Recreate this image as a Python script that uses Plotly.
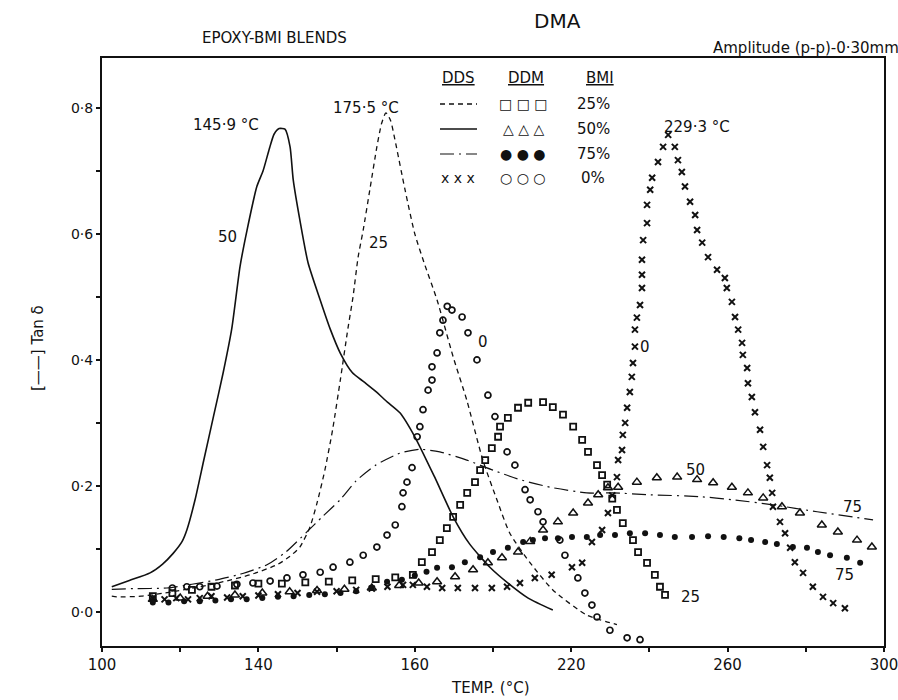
import plotly.graph_objects as go

# ---------------- data ----------------
# DDS cured blends (lines)
dds25_T = [102.5, 103.8, 110, 118, 125, 131, 137.9, 144.8, 148, 150.6, 153.2, 155, 157, 159, 161, 162.9,
           164.2, 165.5, 166.8, 168.5, 170.3, 171.5, 172.6, 173.8, 174.9, 177.5, 180, 182.6, 185.7, 189.8,
           193.3, 197.4, 201, 204.3, 209.5, 215.3, 224, 231.7]
dds25_v = [0.025, 0.024, 0.025, 0.032, 0.040, 0.048, 0.059, 0.075, 0.088, 0.103, 0.135, 0.173, 0.225, 0.29,
           0.37, 0.450, 0.500, 0.563, 0.606, 0.670, 0.738, 0.775, 0.792, 0.78, 0.75, 0.67, 0.60, 0.55, 0.495,
           0.405, 0.336, 0.241, 0.178, 0.125, 0.078, 0.035, -0.005, -0.020]

dds50_T = [102.5, 107, 112.3, 115.5, 118.2, 120.5, 121.7, 123.8, 126, 128.5, 131, 133.2, 135.3, 137.1,
           139.6, 141.2, 142.8, 144, 145.3, 146.8, 148.1, 148.9, 150.6, 152.7, 155.8, 158.3, 161, 164, 167,
           170, 173, 176.2, 180, 185, 189.8, 194, 199.2, 204, 209, 215.3]
dds50_v = [0.040, 0.050, 0.062, 0.076, 0.093, 0.112, 0.130, 0.178, 0.24, 0.31, 0.38, 0.450, 0.548, 0.606,
           0.675, 0.700, 0.735, 0.758, 0.767, 0.766, 0.738, 0.686, 0.622, 0.554, 0.495, 0.450, 0.41, 0.38,
           0.365, 0.35, 0.333, 0.316, 0.278, 0.215, 0.151, 0.108, 0.071, 0.045, 0.022, 0.003]

dds75_T = [102.5, 108, 116.6, 123, 129.4, 136, 142.2, 147, 152.4, 156.5, 160.9, 165, 170, 176.2, 181.3,
           186.4, 193.3, 200, 206.9, 214.6, 224, 230.7, 240.2, 252.9, 261.4, 271.6, 282.9, 297.2]
dds75_v = [0.036, 0.037, 0.038, 0.044, 0.051, 0.061, 0.075, 0.095, 0.127, 0.152, 0.178, 0.208, 0.233, 0.252,
           0.258, 0.254, 0.241, 0.225, 0.210, 0.198, 0.189, 0.189, 0.186, 0.183, 0.178, 0.170, 0.159, 0.146]

dds0_T = [113, 116, 119, 122, 125, 128, 132, 136, 140, 145, 150, 155, 160, 165, 169, 173, 177, 179.5, 183.1,
          187, 191, 195.4, 199.7, 203.6, 206.9, 210.7, 215, 220.2, 222.8, 225.3, 227.9, 229.4, 230.5, 231.7,
          232, 233, 233.2, 233.8, 234.3, 235, 235.5, 235.8, 236.3, 236.3, 236.8, 237.6, 238.1, 238.1, 238.1,
          238.4, 239.4, 239.4, 240.2, 240.7, 242.2, 243.5, 244.8, 246.5, 247.3, 248.3, 249.1, 250.4, 251.7,
          252.2, 253.5, 255, 257.3, 259.3, 259.8, 261.1, 261.9, 262.7, 263.7, 263.9, 265, 265.2, 266.2, 267,
          268.3, 269.1, 270.1, 270.8, 271.4, 271.6, 273.4, 274.7, 276, 277.2, 279.3, 281.8, 284.4, 287, 290]
dds0_v = [0.022, 0.020, 0.022, 0.020, 0.022, 0.025, 0.023, 0.025, 0.026, 0.028, 0.030, 0.032, 0.033, 0.035,
          0.037, 0.040, 0.043, 0.043, 0.040, 0.038, 0.038, 0.038, 0.038, 0.040, 0.046, 0.054, 0.059, 0.071,
          0.078, 0.111, 0.130, 0.157, 0.185, 0.214, 0.241, 0.257, 0.281, 0.300, 0.324, 0.349, 0.373, 0.395,
          0.421, 0.448, 0.467, 0.487, 0.514, 0.535, 0.559, 0.590, 0.617, 0.646, 0.670, 0.689, 0.714, 0.738,
          0.757, 0.738, 0.717, 0.698, 0.675, 0.651, 0.630, 0.606, 0.586, 0.563, 0.543, 0.530, 0.514, 0.492,
          0.468, 0.448, 0.427, 0.408, 0.387, 0.363, 0.341, 0.317, 0.289, 0.262, 0.233, 0.213, 0.189, 0.167,
          0.143, 0.125, 0.102, 0.079, 0.062, 0.040, 0.024, 0.014, 0.006, 0.003]

# DDM cured blends (markers)
ddm25_T = [113, 118, 123, 128, 134, 140, 146, 152, 158, 164, 170, 175, 179.5, 181.8, 184.4, 186.4, 188.2,
           189.8, 191.6, 193.4, 195.4, 196.7, 198, 199.7, 201.3, 201.8, 203.8, 206.4, 209, 212.8, 215.3, 217.9,
           220.5, 222.8, 224.3, 226.6, 227.9, 229.2, 230.5, 231.7, 233.2, 235.8, 237.1, 239.4, 241.4, 242.7, 244]
ddm25_v = [0.025, 0.030, 0.035, 0.040, 0.042, 0.045, 0.045, 0.047, 0.048, 0.050, 0.052, 0.055, 0.059, 0.079,
           0.095, 0.114, 0.133, 0.151, 0.170, 0.189, 0.206, 0.225, 0.241, 0.260, 0.278, 0.294, 0.308, 0.324,
           0.332, 0.333, 0.325, 0.313, 0.294, 0.273, 0.254, 0.233, 0.217, 0.202, 0.180, 0.162, 0.141, 0.114,
           0.095, 0.078, 0.059, 0.040, 0.027]

ddm50_T = [113, 120, 127, 134, 141, 148, 155, 162, 169, 176, 181, 185.7, 190.3, 194.9, 198.7, 202.3, 206.4,
           209.5, 212.8, 216.6, 220.5, 224.3, 226.9, 229.4, 232, 236.8, 241.9, 247.1, 252.2, 256.3, 261.1,
           265.2, 269.1, 273.9, 278.5, 284.1, 288.2, 293.1, 296.9]
ddm50_v = [0.020, 0.022, 0.025, 0.027, 0.030, 0.032, 0.034, 0.036, 0.038, 0.042, 0.046, 0.048, 0.056, 0.067,
           0.078, 0.086, 0.095, 0.112, 0.130, 0.143, 0.157, 0.173, 0.186, 0.197, 0.198, 0.206, 0.213, 0.214,
           0.210, 0.205, 0.198, 0.189, 0.181, 0.167, 0.157, 0.138, 0.127, 0.114, 0.103]

ddm75_T = [113, 117, 121, 125, 129, 133, 137, 141, 145, 149, 153, 157, 161, 165, 169, 172.9, 176.7, 180, 183,
           185.7, 189.5, 192.8, 196.7, 200, 203.8, 207.7, 210.2, 213.3, 216.6, 220.2, 224, 227.4, 231.2, 235,
           238.9, 242.7, 246.5, 250.9, 255, 259, 263, 266, 269.6, 272.6, 276.7, 280.3, 283.1, 286.2, 290.5, 293.9]
ddm75_v = [0.015, 0.015, 0.017, 0.017, 0.018, 0.020, 0.020, 0.022, 0.024, 0.025, 0.027, 0.028, 0.030, 0.033,
           0.038, 0.048, 0.051, 0.058, 0.064, 0.070, 0.071, 0.079, 0.087, 0.095, 0.102, 0.111, 0.114, 0.117,
           0.117, 0.119, 0.119, 0.122, 0.122, 0.125, 0.125, 0.122, 0.119, 0.119, 0.120, 0.119, 0.117, 0.114,
           0.111, 0.108, 0.103, 0.102, 0.095, 0.090, 0.086, 0.078]

ddm0_T = [118, 121.7, 125, 129.4, 134.5, 138.6, 143, 147.3, 151.4, 155.8, 159.1, 163.4, 166.8, 170.3, 172.9,
          175, 176.7, 177, 178, 179.3, 180.6, 181.3, 182.1, 183.4, 184.4, 184.4, 185.7, 186.4, 187.2, 188.3,
          189.5, 192.1, 193.6, 195.9, 198.7, 200.5, 203.6, 205.6, 208.2, 209.5, 211.5, 212.8, 217.1, 218.4,
          221.7, 223.5, 225.3, 226.6, 229.9, 234.3, 237.6]
ddm0_v = [0.038, 0.040, 0.040, 0.041, 0.044, 0.046, 0.049, 0.054, 0.059, 0.063, 0.071, 0.079, 0.090, 0.103,
          0.122, 0.138, 0.167, 0.189, 0.206, 0.229, 0.278, 0.294, 0.321, 0.352, 0.368, 0.389, 0.411, 0.443,
          0.463, 0.485, 0.479, 0.468, 0.443, 0.400, 0.344, 0.310, 0.254, 0.233, 0.194, 0.178, 0.159, 0.143,
          0.114, 0.090, 0.054, 0.030, 0.011, -0.008, -0.029, -0.041, -0.044]

# axes
x_tickvals = [100, 120, 140, 160, 180, 200, 220, 240, 260, 280, 300]
x_ticktext = ["100", "", "140", "", "160", "", "220", "", "260", "", "300"]
y_tickvals = [0.0, 0.1, 0.2, 0.3, 0.4, 0.5, 0.6, 0.7, 0.8]
y_ticktext = ["0·0", "", "0·2", "", "0·4", "", "0·6", "", "0·8"]

# legend table text
bmi_labels = ["25%", "50%", "75%", "0%"]
ddm_glyphs = ["□ □ □", "△ △ △", "● ● ●", "○ ○ ○"]

# ---------------- figure ----------------
W, H = 898, 700
ML, MR, MT, MB = 102, 14, 58, 54
PW, PH = W - ML - MR, H - MT - MB
FONT = "DejaVu Sans"
INK = "#111111"


def px(x):
    return (x - ML) / PW


def py(y):
    return (H - MB - y) / PH


fig = go.Figure()

line_styles = [
    (dds25_T, dds25_v, "5px,4px", 1.3),
    (dds50_T, dds50_v, "solid", 1.6),
    (dds75_T, dds75_v, "14px,5px,2px,5px", 1.2),
]
for T, v, dash, w in line_styles:
    fig.add_trace(go.Scatter(x=T, y=v, mode="lines", line=dict(color=INK, width=w, dash=dash,
                                                              shape="spline", smoothing=0.6),
                             showlegend=False, hoverinfo="skip"))

fig.add_trace(go.Scatter(x=dds0_T, y=dds0_v, mode="markers",
                         marker=dict(symbol="x-thin", size=6, line=dict(color=INK, width=2)),
                         showlegend=False))

marker_styles = [
    (ddm25_T, ddm25_v, "square-open", 6, 1.8),
    (ddm50_T, ddm50_v, "triangle-up-open", 8, 1.5),
    (ddm75_T, ddm75_v, "circle", 6, 0),
    (ddm0_T, ddm0_v, "circle-open", 6, 1.7),
]
for T, v, sym, sz, lw in marker_styles:
    fig.add_trace(go.Scatter(x=T, y=v, mode="markers",
                             marker=dict(symbol=sym, size=sz, color=INK, line=dict(color=INK, width=lw)),
                             showlegend=False))

ann = []
# titles
ann.append(dict(text="DMA", x=px(557), y=py(21), font=dict(size=20)))
ann.append(dict(text="EPOXY-BMI BLENDS", x=px(274), y=py(38), font=dict(size=15)))
ann.append(dict(text="Amplitude (p-p)-0·30mm", x=px(806), y=py(48), font=dict(size=15)))
ann.append(dict(text="TEMP. (°C)", x=px(490), y=py(688), font=dict(size=15)))
ann.append(dict(text="[——] Tan δ", x=px(38), y=py(348), textangle=-90, font=dict(size=15)))

# legend table
ann.append(dict(text="<u>DDS</u>", x=px(458), y=py(78), font=dict(size=15)))
ann.append(dict(text="<u>DDM</u>", x=px(526), y=py(78), font=dict(size=15)))
ann.append(dict(text="<u>BMI</u>", x=px(600), y=py(78), font=dict(size=15)))
rows_y = [104, 129, 154, 178]
for lab, gl, ry in zip(bmi_labels, ddm_glyphs, rows_y):
    ann.append(dict(text=lab, x=px(593), y=py(ry), font=dict(size=15)))
    ann.append(dict(text=gl, x=px(523), y=py(ry), font=dict(size=14)))
ann.append(dict(text="x x x", x=px(458), y=py(rows_y[3]), font=dict(size=14)))

shapes = []
for (dash, w), ry in zip([("5px,4px", 1.3), ("solid", 1.5), ("14px,5px,2px,5px", 1.2)], rows_y[:3]):
    shapes.append(dict(type="line", xref="paper", yref="paper", x0=px(440), x1=px(477), y0=py(ry), y1=py(ry),
                       line=dict(color=INK, width=w, dash=dash)))

for a in ann:
    a.update(xref="paper", yref="paper", showarrow=False, xanchor="center", yanchor="middle")
    a.setdefault("font", {})
    a["font"].update(family=FONT, color=INK)

# curve labels (data coordinates)
curve_labels = [
    ("145·9 °C", 131.7, 0.773), ("175·5 °C", 167.5, 0.800), ("229·3 °C", 252.2, 0.770),
    ("50", 132.0, 0.595), ("25", 170.6, 0.586), ("0", 197.4, 0.429), ("0", 238.9, 0.421),
    ("50", 251.7, 0.225), ("25", 250.4, 0.024), ("75", 292.0, 0.167), ("75", 290.0, 0.059),
]
for t, xx, yy in curve_labels:
    ann.append(dict(text=t, x=xx, y=yy, xref="x", yref="y", showarrow=False,
                    font=dict(family=FONT, size=15, color=INK)))

fig.update_layout(
    width=W, height=H,
    margin=dict(l=ML, r=MR, t=MT, b=MB, autoexpand=False),
    paper_bgcolor="white", plot_bgcolor="white",
    font=dict(family=FONT, color=INK, size=14),
    annotations=ann, shapes=shapes,
    showlegend=False,
)
fig.update_xaxes(range=[100, 300], tickvals=x_tickvals, ticktext=x_ticktext,
                 showline=True, linecolor=INK, linewidth=2, mirror=True,
                 ticks="outside", ticklen=4, tickwidth=1.5, tickcolor=INK,
                 ticklabeloverflow="allow", automargin=False,
                 showgrid=False, zeroline=False, tickfont=dict(size=15, family=FONT))
fig.update_yaxes(range=[-0.054, 0.879], tickvals=y_tickvals, ticktext=y_ticktext,
                 showline=True, linecolor=INK, linewidth=2, mirror=True,
                 ticks="outside", ticklen=4, tickwidth=1.5, tickcolor=INK, automargin=False,
                 showgrid=False, zeroline=False, tickfont=dict(size=14, family=FONT))

fig.write_html("out.html")
